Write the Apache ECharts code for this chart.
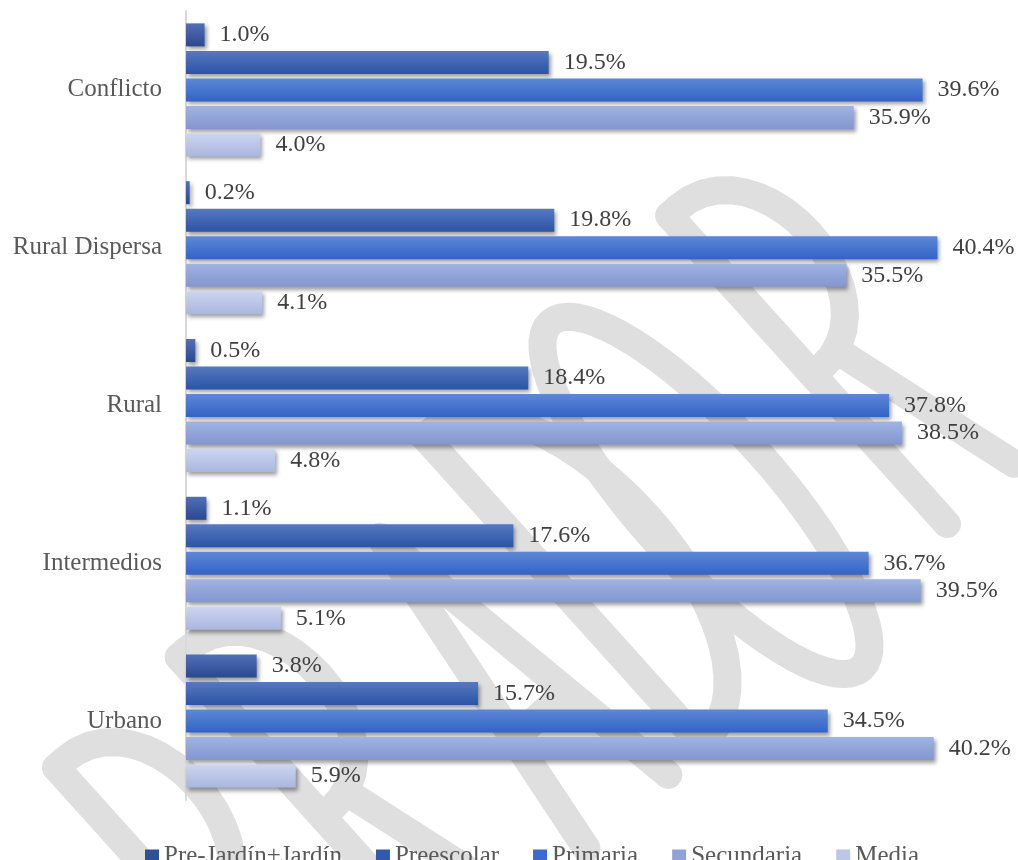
<!DOCTYPE html>
<html>
<head>
<meta charset="utf-8">
<script src="https://cdn.jsdelivr.net/npm/echarts@6/dist/echarts.min.js"></script>
<style>
  html, body { margin: 0; padding: 0; background: #ffffff; }
  #chart { width: 1018px; height: 860px; }
</style>
</head>
<body>
<div id="chart"></div>
<script>
// Zone categories, listed top to bottom
const categories = ['Conflicto', 'Rural Dispersa', 'Rural', 'Intermedios', 'Urbano'];

// Education levels (series)
const seriesNames = ['Pre-Jardín+Jardín', 'Preescolar', 'Primaria', 'Secundaria', 'Media'];

// Share of enrolment per level, in percent, same order as categories
const preJardin  = [1.0, 0.2, 0.5, 1.1, 3.8];
const preescolar = [19.5, 19.8, 18.4, 17.6, 15.7];
const primaria   = [39.6, 40.4, 37.8, 36.7, 34.5];
const secundaria = [35.9, 35.5, 38.5, 39.5, 40.2];
const media      = [4.0, 4.1, 4.8, 5.1, 5.9];

const seriesValues = [preJardin, preescolar, primaria, secundaria, media];

// Bar fill: lighter top edge fading to a deeper base tone
const topColors    = ['#5270b4', '#5679bf', '#5e88d6', '#a0b3e1', '#cdd5ef'];
const bottomColors = ['#284890', '#2b54a6', '#3263c6', '#8396d0', '#a9b6df'];
const legendColors = ['#2f4f96', '#3259ad', '#3b6bcf', '#8fa3d8', '#bcc6e6'];

const FONT = 'Liberation Serif';

// ---- Background "BORRADOR" stamp, drawn as thick rounded strokes ----
const CAP = 415;          // letter height along the tilted baseline
const ADV = 165;          // advance between letters

function cubic(p0, p1, p2, p3, n) {
  const pts = [];
  for (let i = 0; i <= n; i++) {
    const t = i / n, u = 1 - t;
    pts.push([
      u * u * u * p0[0] + 3 * u * u * t * p1[0] + 3 * u * t * t * p2[0] + t * t * t * p3[0],
      u * u * u * p0[1] + 3 * u * u * t * p1[1] + 3 * u * t * t * p2[1] + t * t * t * p3[1]
    ]);
  }
  return pts;
}
function ring(cx, cy, rx, ry, n) {
  const pts = [];
  for (let i = 0; i <= n; i++) {
    const a = (i / n) * Math.PI * 2;
    pts.push([cx + rx * Math.cos(a), cy + ry * Math.sin(a)]);
  }
  return pts;
}
const glyphs = {
  R: x => [
    [[x, 0], [x, -CAP]],
    [[x, -CAP]].concat(cubic([x + 10, -CAP], [x + 120, -CAP], [x + 120, -200], [x + 10, -200], 20), [[x, -200]]),
    [[x + 35, -200], [x + 90, 0]]
  ],
  O: x => [ring(x + 5, -CAP / 2 + 25, 68, CAP / 2 + 25, 72)],
  D: x => [
    [[x, 0], [x, -CAP]],
    [[x, -CAP]].concat(cubic([x, -CAP], [x + 150, -CAP], [x + 150, 0], [x, 0], 28))
  ],
  A: x => [
    [[x + 10, 0], [x + 65, -CAP + 45], [x + 120, 0]],
    [[x + 35, -130], [x + 95, -130]]
  ],
  B: x => [
    [[x, 0], [x, -CAP]],
    [[x, -CAP]].concat(cubic([x, -CAP], [x + 110, -CAP], [x + 110, -212], [x, -212], 20)),
    [[x, -212]].concat(cubic([x, -212], [x + 130, -212], [x + 130, 0], [x, 0], 20))
  ]
};
const stampWord = 'BORRADOR';
const stampChildren = [];
for (let i = 0; i < stampWord.length; i++) {
  const x0 = (i - (stampWord.length - 1)) * ADV;
  glyphs[stampWord[i]](x0).forEach(pts => {
    stampChildren.push({
      type: 'polyline',
      silent: true,
      shape: { points: pts },
      style: { stroke: '#dfdfdf', lineWidth: 28, fill: null, lineCap: 'round', lineJoin: 'round' }
    });
  });
}

const chart = echarts.init(document.getElementById('chart'), null, { renderer: 'canvas' });

const series = seriesNames.map((name, i) => ({
  name: name,
  type: 'bar',
  data: seriesValues[i],
  barWidth: 23,
  barGap: '19.6%',
  barCategoryGap: '15%',
  z: 3,
  itemStyle: {
    color: new echarts.graphic.LinearGradient(0, 0, 0, 1, [
      { offset: 0, color: topColors[i] },
      { offset: 1, color: bottomColors[i] }
    ]),
    shadowColor: 'rgba(0,0,0,0.38)',
    shadowBlur: 4,
    shadowOffsetX: 2,
    shadowOffsetY: 3
  },
  label: {
    show: true,
    position: 'right',
    distance: 15,
    fontFamily: FONT,
    fontSize: 24,
    color: '#404040',
    formatter: p => p.value.toFixed(1) + '%'
  }
}));

chart.setOption({
  animation: false,
  backgroundColor: '#ffffff',
  color: legendColors,
  graphic: [{
    type: 'group',
    x: 947,
    y: 524,
    rotation: 0.733,
    silent: true,
    z: 0,
    children: stampChildren
  }],
  grid: { left: 186, right: 13.6, top: 11, bottom: 60, containLabel: false },
  legend: {
    data: seriesNames.map((n, i) => ({ name: n, itemStyle: { color: legendColors[i] } })),
    left: 140,
    top: 839,
    icon: 'rect',
    itemWidth: 14,
    itemHeight: 14,
    itemGap: 34,
    selectedMode: false,
    textStyle: { fontFamily: FONT, fontSize: 25, color: '#595959' }
  },
  xAxis: {
    type: 'value',
    min: 0,
    max: 44,
    show: false,
    splitLine: { show: false }
  },
  yAxis: {
    type: 'category',
    data: categories,
    inverse: true,
    axisLine: { show: true, lineStyle: { color: '#d9d9d9', width: 2 } },
    axisTick: { show: false },
    axisLabel: { margin: 24, fontFamily: FONT, fontSize: 25, color: '#595959' }
  },
  series: series
});
</script>
</body>
</html>
